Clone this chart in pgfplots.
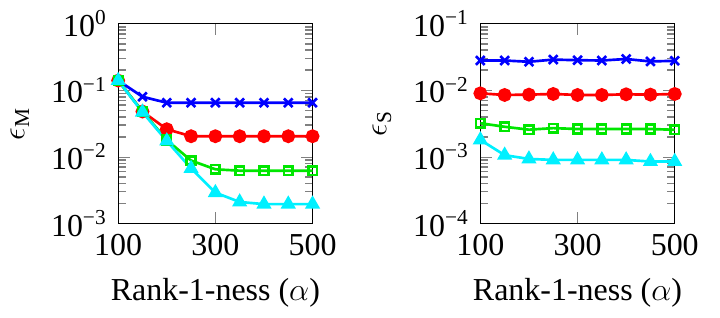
\documentclass[border=0pt]{standalone}
\usepackage{pgfplots}
\pgfplotsset{compat=1.18}
\usepackage{fontspec}
\setmainfont{Liberation Serif}
\definecolor{cB}{RGB}{0,0,255}
\definecolor{cR}{RGB}{255,0,0}
\definecolor{cG}{RGB}{0,230,0}
\definecolor{cC}{RGB}{0,240,255}
\newcommand{\expo}[1]{\pgfmathparse{int(round(#1/2.302585093))}\ifnum\pgfmathresult<0 −\pgfmathparse{int(-\pgfmathresult)}\fi\pgfmathresult}
\pgfplotsset{
  log number format code/.code={10\textsuperscript{\expo{#1}}},
}
\begin{document}
\fontsize{12}{14}\selectfont
\begin{tikzpicture}
\begin{axis}[scale only axis, width=73pt, height=75pt,
  ymode=log, xmin=100, xmax=500, xtick={100,300,500}, xticklabels={100,300,500},
  minor ytick={2e-3,3e-3,4e-3,5e-3,6e-3,7e-3,8e-3,9e-3,2e-2,3e-2,4e-2,5e-2,6e-2,7e-2,8e-2,9e-2,0.2,0.3,0.4,0.5,0.6,0.7,0.8,0.9},
  minor tick length=3pt,
  minor tick style={gray, line width=0.6pt},
  xlabel={Rank-1-ness ($\alpha$)},
  at={(0pt,0pt)}, ymin=1e-3, ymax=1,
  ylabel={$\epsilon_{\mathrm{M}}$}]
\addplot[line width=1pt, cB, mark=x, mark size=2.3pt] coordinates {(100,0.14) (150,0.080) (200,0.065) (250,0.065) (300,0.065) (350,0.065) (400,0.065) (450,0.065) (500,0.065)};
\addplot[line width=1pt, cR, mark=*, mark size=2.1pt] coordinates {(100,0.14) (150,0.048) (200,0.026) (250,0.0204) (300,0.0204) (350,0.0204) (400,0.0204) (450,0.0204) (500,0.0204)};
\addplot[line width=1pt, cG, mark=square, mark size=1.6pt] coordinates {(100,0.14) (150,0.048) (200,0.0179) (250,0.0088) (300,0.0065) (350,0.0062) (400,0.0062) (450,0.0062) (500,0.0062)};
\addplot[line width=1pt, cC, mark=triangle*, mark size=2.3pt] coordinates {(100,0.14) (150,0.047) (200,0.0173) (250,0.0067) (300,0.0029) (350,0.0021) (400,0.00195) (450,0.00195) (500,0.00195)};
\end{axis}
\begin{axis}[scale only axis, width=73pt, height=75pt,
  ymode=log, xmin=100, xmax=500, xtick={100,300,500}, xticklabels={100,300,500},
  minor ytick={2e-4,3e-4,4e-4,5e-4,6e-4,7e-4,8e-4,9e-4,2e-3,3e-3,4e-3,5e-3,6e-3,7e-3,8e-3,9e-3,2e-2,3e-2,4e-2,5e-2,6e-2,7e-2,8e-2,9e-2},
  minor tick length=3pt,
  minor tick style={gray, line width=0.6pt},
  xlabel={Rank-1-ness ($\alpha$)},
  at={(136pt,0pt)}, ymin=1e-4, ymax=1e-1,
  ylabel={$\epsilon_{\mathrm{S}}$}]
\addplot[line width=1pt, cB, mark=x, mark size=2.3pt] coordinates {(100,0.0280) (150,0.0280) (200,0.0268) (250,0.0289) (300,0.0283) (350,0.0280) (400,0.0295) (450,0.0271) (500,0.0277)};
\addplot[line width=1pt, cR, mark=*, mark size=2.1pt] coordinates {(100,0.0090) (150,0.0085) (200,0.0086) (250,0.0088) (300,0.0085) (350,0.0085) (400,0.0087) (450,0.0086) (500,0.0088)};
\addplot[line width=1pt, cG, mark=square, mark size=1.6pt] coordinates {(100,0.0032) (150,0.00283) (200,0.00256) (250,0.00270) (300,0.00262) (350,0.00262) (400,0.00262) (450,0.00262) (500,0.00255)};
\addplot[line width=1pt, cC, mark=triangle*, mark size=2.3pt] coordinates {(100,0.0018) (150,0.00106) (200,0.00093) (250,0.0009) (300,0.0009) (350,0.0009) (400,0.0009) (450,0.00085) (500,0.00085)};
\end{axis}
\path (current bounding box.east) ++(4pt,0pt);
\end{tikzpicture}
\end{document}
